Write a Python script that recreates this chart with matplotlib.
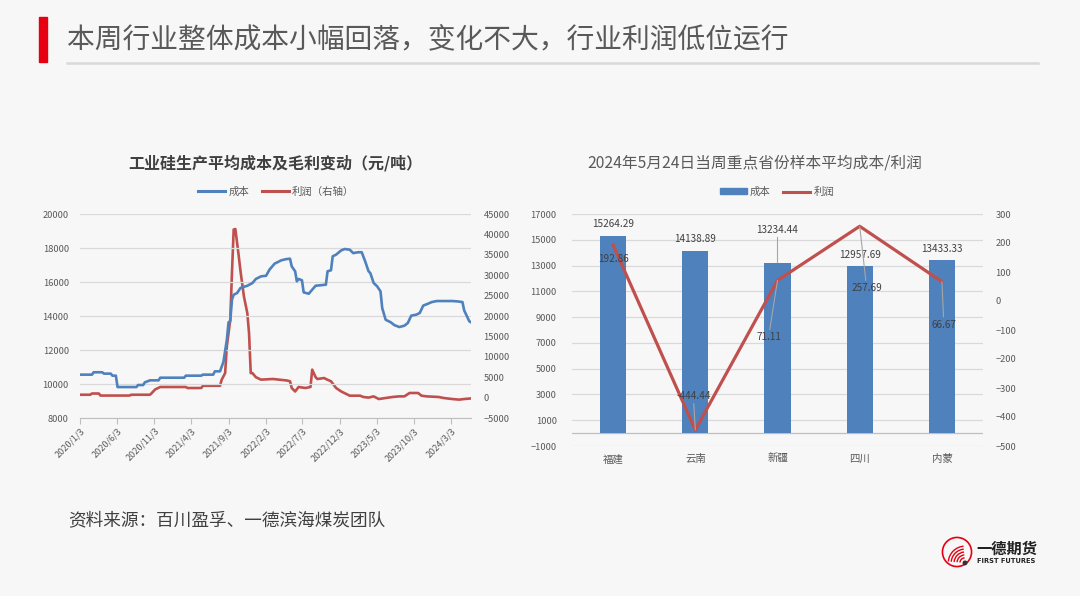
import matplotlib.pyplot as plt
import pandas as pd
from matplotlib.patches import Rectangle, Circle, Arc, Patch
from matplotlib.lines import Line2D

plt.rcParams['font.family'] = ['Noto Sans CJK SC', 'DejaVu Sans']

BLUE = '#4F81BD'
RED = '#C0504D'
GRID = '#d9d9d9'
TXT = '#595959'
BG = '#f7f7f7'

# left chart: weekly cost / profit (at turning points)
cost_dates = ['2020-01-03', '2020-02-21', '2020-02-28', '2020-04-03', '2020-04-10', '2020-05-08',
              '2020-05-15', '2020-05-29', '2020-06-05', '2020-08-21', '2020-08-28', '2020-09-18',
              '2020-09-25', '2020-10-16', '2020-11-20', '2020-11-27', '2021-03-05', '2021-03-12',
              '2021-05-14', '2021-05-21', '2021-07-02', '2021-07-09', '2021-07-30', '2021-08-13',
              '2021-08-27', '2021-09-03', '2021-09-10', '2021-09-17', '2021-09-24', '2021-10-08',
              '2021-10-22', '2021-11-19', '2021-12-10', '2021-12-24', '2022-01-14', '2022-02-04',
              '2022-02-18', '2022-03-11', '2022-04-08', '2022-04-29', '2022-05-13', '2022-05-20',
              '2022-06-03', '2022-06-10', '2022-06-17', '2022-07-01', '2022-07-08', '2022-07-29',
              '2022-08-12', '2022-08-26', '2022-10-07', '2022-10-14', '2022-10-28', '2022-11-04',
              '2022-11-18', '2022-12-09', '2022-12-23', '2023-01-13', '2023-01-27', '2023-02-17',
              '2023-03-03', '2023-03-17', '2023-03-31', '2023-04-07', '2023-04-21', '2023-05-05',
              '2023-05-19', '2023-05-26', '2023-06-09', '2023-06-30', '2023-07-14', '2023-08-04',
              '2023-08-25', '2023-09-08', '2023-09-22', '2023-10-13', '2023-10-27', '2023-11-10',
              '2023-12-01', '2023-12-15', '2024-01-05', '2024-03-08', '2024-03-29', '2024-04-19',
              '2024-04-26', '2024-05-17', '2024-05-24']
cost_values = [10550, 10550, 10690, 10690, 10610, 10610,
               10490, 10490, 9820, 9820, 9940, 9940,
               10100, 10215, 10215, 10370, 10370, 10490,
               10490, 10550, 10550, 10745, 10745, 11300,
               12600, 13630, 13690, 14960, 15250, 15350,
               15650, 15780, 15940, 16180, 16330, 16370,
               16730, 17080, 17280, 17350, 17370, 16920,
               16630, 16040, 16180, 16100, 15390, 15310,
               15550, 15780, 15840, 16630, 16690, 17510,
               17610, 17860, 17940, 17900, 17700, 17750,
               17750, 17220, 16630, 16530, 15940, 15750,
               15450, 14470, 13780, 13630, 13470, 13350,
               13430, 13590, 14020, 14080, 14180, 14610,
               14730, 14820, 14880, 14880, 14860, 14820,
               14330, 13690, 13630]

profit_dates = ['2020-01-03', '2020-02-14', '2020-02-21', '2020-03-20', '2020-03-27', '2020-07-24',
                '2020-07-31', '2020-10-16', '2020-10-23', '2020-11-06', '2020-11-27', '2021-03-12',
                '2021-03-19', '2021-05-14', '2021-05-21', '2021-07-30', '2021-08-06', '2021-08-20',
                '2021-08-27', '2021-09-10', '2021-09-17', '2021-09-24', '2021-10-01', '2021-10-15',
                '2021-10-22', '2021-11-05', '2021-11-19', '2021-11-26', '2021-12-03', '2021-12-10',
                '2021-12-24', '2022-01-14', '2022-03-04', '2022-04-29', '2022-05-13', '2022-05-20',
                '2022-06-03', '2022-06-17', '2022-07-15', '2022-08-05', '2022-08-12', '2022-08-26',
                '2022-09-02', '2022-09-30', '2022-10-07', '2022-10-28', '2022-11-18', '2022-12-09',
                '2023-01-13', '2023-02-24', '2023-03-10', '2023-03-31', '2023-04-21', '2023-05-12',
                '2023-06-09', '2023-07-07', '2023-08-04', '2023-08-25', '2023-09-15', '2023-10-20',
                '2023-11-03', '2023-11-24', '2024-01-12', '2024-02-02', '2024-03-08', '2024-04-05',
                '2024-04-26', '2024-05-24']
profit_values = [700, 700, 1000, 1000, 500, 500,
                 700, 700, 1100, 2000, 2600, 2600,
                 2350, 2350, 2900, 2900, 4400, 6000,
                 12600, 19100, 30500, 41200, 41300, 34600,
                 31000, 24800, 20700, 15800, 6000, 6000,
                 5000, 4400, 4560, 4200, 4000, 2350,
                 1500, 2600, 2350, 2600, 6850, 5000,
                 4560, 4800, 4560, 4000, 2350, 1500,
                 470, 470, 150, 0, 300, -350,
                 -100, 150, 300, 300, 1130, 1130,
                 470, 300, 150, -100, -350, -500,
                 -350, -200]

date_ticks = ['2020-01-03', '2020-06-03', '2020-11-03', '2021-04-03', '2021-09-03', '2022-02-03',
              '2022-07-03', '2022-12-03', '2023-05-03', '2023-10-03', '2024-03-03']

# right chart: provinces, week of 2024-05-24
provinces = ['福建', '云南', '新疆', '四川', '内蒙']
prov_cost = [15264.29, 14138.89, 13234.44, 12957.69, 13433.33]
prov_profit = [192.86, -444.44, 71.11, 257.69, 66.67]

W, H = 1080, 596
fig = plt.figure(figsize=(W / 100, H / 100), dpi=100)
fig.patch.set_facecolor(BG)


def fx(px):
    return px / W


def fy(py):
    return 1 - py / H


# header
fig.patches.append(Rectangle((fx(39), fy(62)), fx(8), 45 / H, transform=fig.transFigure,
                             color='#e60012', zorder=3))
fig.text(fx(67), fy(40), '本周行业整体成本小幅回落，变化不大，行业利润低位运行',
         fontsize=20, color=TXT, va='center', ha='left')
fig.add_artist(Line2D([fx(67), fx(1038)], [fy(63), fy(63)], color='#d9d9d9', lw=1.8,
                      transform=fig.transFigure))

# ---------------- left chart ----------------
ax = fig.add_axes([fx(80), fy(418), fx(471) - fx(80), (418 - 214) / H])
ax2 = ax.twinx()
cd = pd.to_datetime(cost_dates)
pdts = pd.to_datetime(profit_dates)
ax.plot(cd, cost_values, color=BLUE, lw=1.9, zorder=3)
ax2.plot(pdts, profit_values, color=RED, lw=1.9, zorder=3)
ax.set_ylim(8000, 20000)
ax.set_yticks(range(8000, 20001, 2000))
ax2.set_ylim(-5000, 45000)
ax2.set_yticks(range(-5000, 45001, 5000))
ax.set_xlim(pd.Timestamp('2020-01-03'), pd.Timestamp('2024-05-24'))
ticks = pd.to_datetime(date_ticks)
ax.set_xticks(ticks)
ax.set_xticklabels([f'{d.year}/{d.month}/{d.day}' for d in ticks], rotation=45, ha='right',
                   rotation_mode='anchor', fontsize=6.5, color=TXT)
ax.grid(axis='y', color=GRID, lw=0.9)
for a in (ax, ax2):
    a.set_facecolor('none')
    for s in a.spines.values():
        s.set_visible(False)
ax.spines['bottom'].set_visible(True)
ax.spines['bottom'].set_color('#bfbfbf')
ax.tick_params(axis='x', length=4, color='#bfbfbf', pad=2)
ax.tick_params(axis='y', length=0, labelsize=6.7, labelcolor=TXT, pad=8)
ax2.tick_params(axis='y', length=0, labelsize=6.7, labelcolor=TXT, pad=9)
ax.set_zorder(ax2.get_zorder() + 1)
ax.patch.set_visible(False)

fig.text(fx(275), fy(163), '工业硅生产平均成本及毛利变动（元/吨）', fontsize=11.5,
         fontweight='bold', color='#404040', ha='center', va='center')
fig.legend(handles=[Line2D([], [], color=BLUE, lw=2.2, label='成本'),
                    Line2D([], [], color=RED, lw=2.2, label='利润（右轴）')],
           loc='center', bbox_to_anchor=(fx(276), fy(192)), ncol=2, frameon=False,
           fontsize=7.5, labelcolor=TXT, handlelength=2.6, columnspacing=1.2, handletextpad=0.3)

# ---------------- right chart ----------------
bx = fig.add_axes([fx(572), fy(446), fx(983) - fx(572), (446 - 214) / H])
bx2 = bx.twinx()
xs = range(len(provinces))
bx.bar(xs, prov_cost, width=0.32, color=BLUE, zorder=3)
bx2.plot(xs, prov_profit, color=RED, lw=2.3, zorder=4)
bx.set_xlim(-0.5, 4.5)
bx.set_ylim(-1000, 17000)
bx.set_yticks(range(-1000, 17001, 2000))
bx2.set_ylim(-500, 300)
bx2.set_yticks(range(-500, 301, 100))
bx.set_xticks(list(xs))
bx.set_xticklabels(provinces, fontsize=7.5, color=TXT)
bx.grid(axis='y', color=GRID, lw=0.9)
bx.axhline(0, color='#bfbfbf', lw=0.9, zorder=2)
for a in (bx, bx2):
    a.set_facecolor('none')
    for s in a.spines.values():
        s.set_visible(False)
bx.tick_params(axis='x', length=0, pad=6)
bx.tick_params(axis='y', length=0, labelsize=6.7, labelcolor=TXT, pad=11)
bx2.tick_params(axis='y', length=0, labelsize=6.7, labelcolor=TXT, pad=9)

# data labels (pixel offsets from the mark)
cost_label_dy = [12, 12, 33, 11, 11]
profit_label_off = [(0, -14), (-2, 34), (-9, -57), (7, -62), (2, -43)]
lead = dict(arrowstyle='-', color='#a6a6a6', lw=0.8, shrinkA=0, shrinkB=0)
for i, v in enumerate(prov_cost):
    bx.annotate(f'{v:.2f}', (i, v), xytext=(0, cost_label_dy[i]), textcoords='offset pixels',
                ha='center', va='center', fontsize=7.2, color='#404040', zorder=6,
                arrowprops=lead if cost_label_dy[i] > 20 else None)
for i, v in enumerate(prov_profit):
    dx, dy = profit_label_off[i]
    bx2.annotate(f'{v:.2f}', (i, v), xytext=(dx, dy), textcoords='offset pixels',
                 ha='center', va='center', fontsize=7.2, color='#404040', zorder=6,
                 arrowprops=lead if abs(dy) > 20 else None)

fig.text(fx(755), fy(163), '2024年5月24日当周重点省份样本平均成本/利润', fontsize=11.3,
         color=TXT, ha='center', va='center')
fig.legend(handles=[Patch(color=BLUE, label='成本'),
                    Line2D([], [], color=RED, lw=2.2, label='利润')],
           loc='center', bbox_to_anchor=(fx(777), fy(192)), ncol=2, frameon=False,
           fontsize=7.5, labelcolor=TXT, handlelength=2.6, handleheight=0.5,
           columnspacing=1.2, handletextpad=0.3)

# source + logo
fig.text(fx(68), fy(520), '资料来源：百川盈孚、一德滨海煤炭团队', fontsize=12.7, color='#404040',
         ha='left', va='center')
lg = fig.add_axes([fx(941), fy(568), fx(32), 32 / H])
lg.set_xlim(-1.1, 1.1)
lg.set_ylim(-1.1, 1.1)
lg.set_aspect('equal')
lg.axis('off')
lg.add_patch(Circle((0, 0), 1.0, fill=False, ec='#e60012', lw=1.2))
for r in [0.35, 0.55, 0.75, 0.95, 1.15]:
    lg.add_patch(Arc((0.55, -0.75), 2 * r, 2 * r, theta1=95, theta2=175, color='#e60012', lw=1.0))
lg.add_patch(Circle((0.55, -0.75), 0.12, color='#333333'))
fig.text(fx(976), fy(549), '一德期货', fontsize=11, fontweight='bold', color='#222222',
         ha='left', va='center')
fig.text(fx(977), fy(561), 'FIRST FUTURES', fontsize=4.8, fontweight='bold', color='#222222',
         ha='left', va='center', family=['DejaVu Sans'])

fig.savefig('out.png', dpi=100, facecolor=BG)
